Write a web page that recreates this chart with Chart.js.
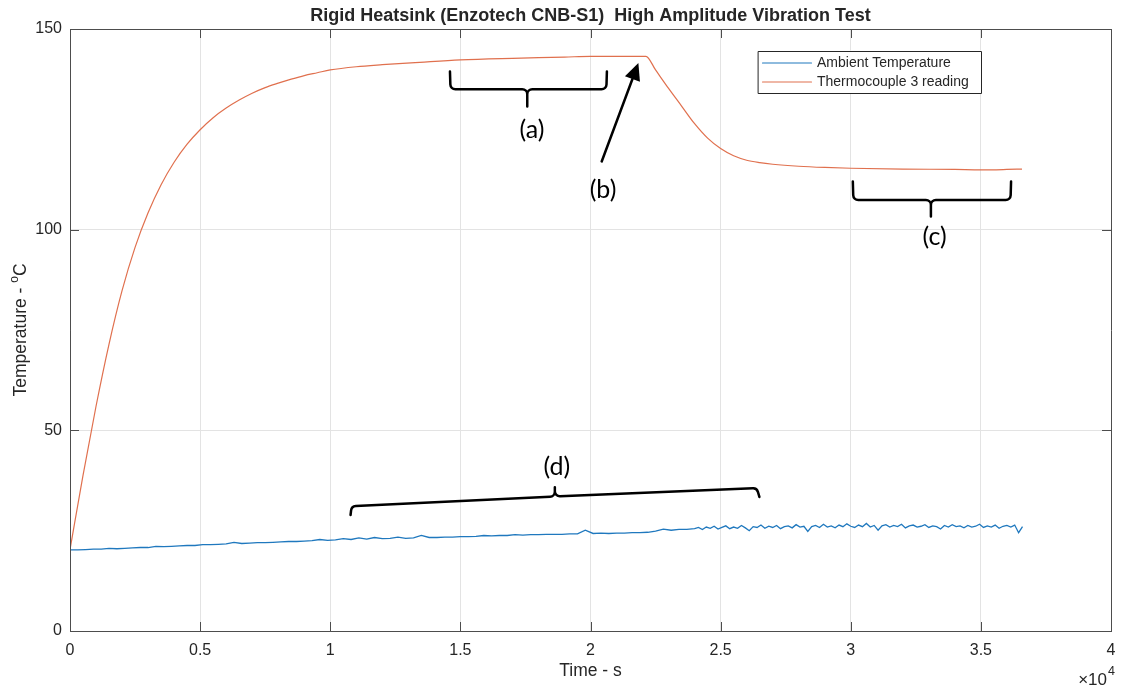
<!DOCTYPE html>
<html>
<head>
<meta charset="utf-8">
<title>Rigid Heatsink High Amplitude Vibration Test</title>
<script src="https://cdn.jsdelivr.net/npm/chart.js@4.4.1/dist/chart.umd.min.js"></script>
<style>
  html, body { margin: 0; padding: 0; background: #fff; }
</style>
</head>
<body>
<canvas id="chart" width="1121" height="688"></canvas>
<script>
const chartTitle = 'Rigid Heatsink (Enzotech CNB-S1)  High Amplitude Vibration Test';
const xTitle = 'Time - s';
const yTitle = ['Temperature - ', 'o', 'C'];
const seriesNames = ['Ambient Temperature', 'Thermocouple 3 reading'];
const xTicks = [0, 0.5, 1, 1.5, 2, 2.5, 3, 3.5, 4];
const yTicks = [0, 50, 100, 150];

// time in units of 10^4 s
const tcTime = [0, 0.05, 0.1, 0.15, 0.2, 0.25, 0.3, 0.35, 0.4, 0.45, 0.5, 0.55, 0.6, 0.65, 0.7, 0.75, 0.8, 0.85, 0.9, 0.95,
  1.0, 1.1, 1.2, 1.344, 1.5, 1.7, 1.9, 2.0, 2.1, 2.213, 2.25, 2.3, 2.35, 2.4, 2.45, 2.5, 2.55, 2.6, 2.65, 2.7,
  2.8, 2.9, 3.0, 3.2, 3.4, 3.5, 3.6, 3.658];
const tcTemp = [20.3, 38.8, 56.0, 71.5, 84.8, 95.6, 104.2, 111.2, 116.8, 121.3, 124.9, 127.9, 130.3, 132.3, 134.0, 135.4, 136.5, 137.5, 138.4, 139.1,
  139.8, 140.6, 141.1, 141.7, 142.3, 142.7, 143.0, 143.2, 143.2, 143.2, 139.8, 135.2, 130.8, 126.4, 122.8, 120.2, 118.4, 117.3, 116.7, 116.3,
  115.8, 115.5, 115.3, 115.1, 115.0, 114.9, 115.0, 115.1];

const ambientTime = [
  0, 0.03, 0.06, 0.09, 0.12, 0.15, 0.18, 0.21, 0.24, 0.27,
  0.3, 0.33, 0.36, 0.39, 0.42, 0.45, 0.48, 0.51, 0.54, 0.57,
  0.6, 0.63, 0.66, 0.69, 0.72, 0.75, 0.78, 0.81, 0.84, 0.87,
  0.9, 0.93, 0.96, 0.99, 1.02, 1.05, 1.08, 1.11, 1.14, 1.17,
  1.2, 1.23, 1.26, 1.29, 1.32, 1.35, 1.38, 1.41, 1.44, 1.47,
  1.5, 1.53, 1.56, 1.59, 1.62, 1.65, 1.68, 1.71, 1.74, 1.77,
  1.8, 1.83, 1.86, 1.89, 1.92, 1.95, 1.98, 2.01, 2.04, 2.07,
  2.1, 2.13, 2.16, 2.19, 2.22, 2.25, 2.28, 2.31, 2.34, 2.37,
  2.4, 2.415, 2.43, 2.445, 2.46, 2.475, 2.49, 2.505, 2.52, 2.535,
  2.55, 2.565, 2.58, 2.595, 2.61, 2.625, 2.64, 2.655, 2.67, 2.685,
  2.7, 2.715, 2.73, 2.745, 2.76, 2.775, 2.79, 2.805, 2.82, 2.835,
  2.85, 2.865, 2.88, 2.895, 2.91, 2.925, 2.94, 2.955, 2.97, 2.985,
  3.0, 3.015, 3.03, 3.045, 3.06, 3.075, 3.09, 3.105, 3.12, 3.135,
  3.15, 3.165, 3.18, 3.195, 3.21, 3.225, 3.24, 3.255, 3.27, 3.285,
  3.3, 3.315, 3.33, 3.345, 3.36, 3.375, 3.39, 3.405, 3.42, 3.435,
  3.45, 3.465, 3.48, 3.495, 3.51, 3.525, 3.54, 3.555, 3.57, 3.585,
  3.6, 3.615, 3.63, 3.645, 3.66];
const ambientTemp = [
  20.2, 20.2, 20.3, 20.4, 20.4, 20.6, 20.5, 20.6, 20.7, 20.8,
  20.8, 21.1, 21.0, 21.1, 21.2, 21.3, 21.3, 21.5, 21.5, 21.6,
  21.7, 22.1, 21.8, 21.9, 22.0, 22.0, 22.1, 22.2, 22.3, 22.3,
  22.4, 22.5, 22.8, 22.6, 22.7, 23.0, 22.8, 23.2, 22.9, 23.3,
  23.0, 23.1, 23.4, 23.1, 23.2, 23.8, 23.3, 23.3, 23.4, 23.4,
  23.5, 23.5, 23.6, 23.8, 23.7, 23.8, 23.8, 24.0, 23.9, 24.0,
  24.0, 24.1, 24.1, 24.1, 24.2, 24.2, 25.1, 24.3, 24.4, 24.3,
  24.4, 24.4, 24.5, 24.5, 24.6, 24.9, 25.4, 25.1, 25.3, 25.3,
  25.5, 25.8, 25.3, 25.9, 25.6, 26.1, 25.4, 25.8, 26.2, 25.5,
  25.9, 25.6, 26.3, 25.7, 25.0, 26.0, 25.8, 26.4, 25.6, 26.1,
  25.8, 26.3, 25.5, 26.0, 26.2, 25.7, 26.5, 25.9, 26.1, 24.8,
  26.0, 26.3, 25.8, 26.6, 25.9, 26.2, 25.7, 26.4, 26.0, 26.7,
  26.1, 25.8, 26.4, 26.0, 26.8, 25.9, 26.3, 25.1, 26.2, 26.5,
  25.9, 26.3, 26.0, 26.6, 25.7, 26.2, 26.4, 25.9, 26.1, 26.5,
  25.8, 26.2, 26.0, 25.4, 26.3, 25.9, 26.5, 26.0, 26.2, 25.7,
  26.3, 25.9, 26.1, 26.6, 25.8, 26.2, 25.9, 26.4, 25.6, 26.1,
  26.3, 25.9, 26.4, 24.5, 26.0];

// hand drawn annotations, in data coordinates
const brackets = [
  { pts: [[1.46, 139.4], [1.462, 135.0], [1.757, 135.0], [1.757, 130.7], [2.061, 135.0], [2.063, 139.4]] },
  { pts: [[3.008, 112.0], [3.01, 107.4], [3.308, 107.4], [3.308, 103.3], [3.614, 107.4], [3.616, 112.0]] },
  { pts: [[1.078, 28.9], [1.082, 31.1], [1.863, 33.5], [1.863, 35.8], [2.639, 35.6], [2.649, 33.4]] }
];
const arrowB = { from: [2.043, 117.0], to: [2.184, 141.5] };
const noteLabels = [
  { text: '(a)', at: [1.775, 124.9] },
  { text: '(b)', at: [2.048, 109.9] },
  { text: '(c)', at: [3.322, 98.3] },
  { text: '(d)', at: [1.871, 40.8] }
];

const FONT = "'Liberation Sans', Arial, sans-serif";
const NOTE_FONT = "Lato, 'Open Sans', sans-serif";
const AMBIENT_COLOR = '#1f78be';
const TC_COLOR = '#e0704e';
const AXIS_COLOR = '#4d4d4d';
const TEXT_COLOR = '#262626';

function toPts(xs, ys) {
  return xs.map((x, i) => ({ x: x, y: ys[i] }));
}

const decorations = {
  id: 'decorations',
  afterDatasetsDraw(chart) {
    const ctx = chart.ctx;
    const xs = chart.scales.x, ys = chart.scales.y;
    const a = chart.chartArea;
    const P = p => [xs.getPixelForValue(p[0]), ys.getPixelForValue(p[1])];

    ctx.save();
    // box and inward ticks
    ctx.strokeStyle = AXIS_COLOR;
    ctx.lineWidth = 1;
    ctx.beginPath();
    ctx.rect(Math.round(a.left) + 0.5, Math.round(a.top) + 0.5, Math.round(a.right - a.left), Math.round(a.bottom - a.top));
    xTicks.forEach(v => {
      const x = Math.round(xs.getPixelForValue(v)) + 0.5;
      ctx.moveTo(x, a.bottom); ctx.lineTo(x, a.bottom - 9);
      ctx.moveTo(x, a.top); ctx.lineTo(x, a.top + 9);
    });
    yTicks.forEach(v => {
      const y = Math.round(ys.getPixelForValue(v)) + 0.5;
      ctx.moveTo(a.left, y); ctx.lineTo(a.left + 9, y);
      ctx.moveTo(a.right, y); ctx.lineTo(a.right - 9, y);
    });
    ctx.stroke();

    // brackets
    ctx.strokeStyle = '#000';
    ctx.lineWidth = 2.5;
    ctx.lineCap = 'round';
    ctx.lineJoin = 'round';
    brackets.forEach(b => {
      const [A, B, C, T, D, E] = b.pts.map(P);
      ctx.beginPath();
      ctx.moveTo(A[0], A[1]);
      ctx.arcTo(B[0], B[1], C[0], C[1], 5);
      ctx.arcTo(C[0], C[1], T[0], T[1], 5);
      ctx.lineTo(T[0], T[1]);
      ctx.moveTo(E[0], E[1]);
      ctx.arcTo(D[0], D[1], C[0], C[1], 5);
      ctx.arcTo(C[0], C[1], T[0], T[1], 5);
      ctx.lineTo(T[0], T[1]);
      ctx.stroke();
    });

    // arrow (b)
    const t0 = P(arrowB.from), t1 = P(arrowB.to);
    const ang = Math.atan2(t1[1] - t0[1], t1[0] - t0[0]);
    const hl = 17, hw = 8;
    const bx = t1[0] - hl * Math.cos(ang), by = t1[1] - hl * Math.sin(ang);
    ctx.beginPath();
    ctx.moveTo(t0[0], t0[1]);
    ctx.lineTo(bx, by);
    ctx.stroke();
    ctx.fillStyle = '#000';
    ctx.beginPath();
    ctx.moveTo(t1[0], t1[1]);
    ctx.lineTo(bx + hw * Math.sin(ang), by - hw * Math.cos(ang));
    ctx.lineTo(bx - hw * Math.sin(ang), by + hw * Math.cos(ang));
    ctx.closePath();
    ctx.fill();

    ctx.font = '25px ' + NOTE_FONT;
    ctx.textAlign = 'center';
    ctx.textBaseline = 'middle';
    noteLabels.forEach(n => {
      const p = P(n.at);
      ctx.fillText(n.text, p[0], p[1]);
    });

    // legend
    const lx = a.right - 353, ly = a.top + 21.5;
    ctx.fillStyle = '#fff';
    ctx.fillRect(lx, ly, 223, 42.5);
    ctx.strokeStyle = TEXT_COLOR;
    ctx.lineWidth = 1;
    ctx.strokeRect(Math.round(lx) + 0.5, Math.round(ly) + 0.5, 223, 42);
    [AMBIENT_COLOR, TC_COLOR].forEach((c, i) => {
      const y = ly + 12.5 + i * 19;
      ctx.strokeStyle = c;
      ctx.lineWidth = 1.2;
      ctx.beginPath();
      ctx.moveTo(lx + 4.5, y); ctx.lineTo(lx + 53.5, y);
      ctx.stroke();
      ctx.fillStyle = TEXT_COLOR;
      ctx.font = '14px ' + FONT;
      ctx.textAlign = 'left';
      ctx.textBaseline = 'middle';
      ctx.fillText(seriesNames[i], lx + 59, y + 0.5);
    });

    // title and axis labels
    const cx = (a.left + a.right) / 2, cy = (a.top + a.bottom) / 2;
    ctx.fillStyle = TEXT_COLOR;
    ctx.textAlign = 'center';
    ctx.textBaseline = 'middle';
    ctx.font = 'bold 18px ' + FONT;
    ctx.fillText(chartTitle, cx, 16);
    ctx.font = '17.5px ' + FONT;
    ctx.fillText(xTitle, cx, 671);

    ctx.save();
    ctx.translate(21, cy);
    ctx.rotate(-Math.PI / 2);
    ctx.font = '17.5px ' + FONT;
    const w0 = ctx.measureText(yTitle[0]).width;
    const w2 = ctx.measureText(yTitle[2]).width;
    ctx.font = '12px ' + FONT;
    const w1 = ctx.measureText(yTitle[1]).width;
    let x = -(w0 + w1 + w2) / 2;
    ctx.textAlign = 'left';
    ctx.font = '17.5px ' + FONT;
    ctx.fillText(yTitle[0], x, 0);
    x += w0;
    ctx.font = '12px ' + FONT;
    ctx.fillText(yTitle[1], x, -6);
    x += w1;
    ctx.font = '17.5px ' + FONT;
    ctx.fillText(yTitle[2], x, 0);
    ctx.restore();

    // x exponent
    ctx.textAlign = 'right';
    ctx.font = '17px ' + FONT;
    ctx.fillText('\u00d710', 1107, 680);
    ctx.textAlign = 'left';
    ctx.font = '12.5px ' + FONT;
    ctx.fillText('4', 1108, 672);
    ctx.restore();
  }
};

new Chart(document.getElementById('chart'), {
  type: 'line',
  data: {
    datasets: [
      {
        label: seriesNames[0],
        data: toPts(ambientTime, ambientTemp),
        borderColor: AMBIENT_COLOR,
        borderWidth: 1.3,
        pointRadius: 0,
        tension: 0
      },
      {
        label: seriesNames[1],
        data: toPts(tcTime, tcTemp),
        borderColor: TC_COLOR,
        borderWidth: 1.2,
        pointRadius: 0,
        cubicInterpolationMode: 'monotone'
      }
    ]
  },
  options: {
    responsive: false,
    animation: false,
    layout: { padding: { top: 29, right: 10, left: 0, bottom: 0 } },
    plugins: {
      legend: { display: false },
      tooltip: { enabled: false },
      title: { display: false }
    },
    scales: {
      x: {
        type: 'linear',
        min: 0,
        max: 4,
        afterFit: s => { s.height = 57; s.paddingLeft = 0; s.paddingRight = 0; },
        ticks: {
          stepSize: 0.5,
          color: TEXT_COLOR,
          font: { family: FONT, size: 16 },
          padding: 10,
          maxRotation: 0,
          autoSkip: false,
          callback: v => String(v)
        },
        grid: { color: '#e3e3e3', drawTicks: false },
        border: { color: AXIS_COLOR }
      },
      y: {
        min: 0,
        max: 150,
        afterFit: s => { s.width = 70; s.paddingTop = 0; s.paddingBottom = 0; },
        ticks: {
          stepSize: 50,
          color: TEXT_COLOR,
          font: { family: FONT, size: 16 },
          padding: 8
        },
        grid: { color: '#e3e3e3', drawTicks: false },
        border: { color: AXIS_COLOR }
      }
    }
  },
  plugins: [decorations]
});
</script>
</body>
</html>
